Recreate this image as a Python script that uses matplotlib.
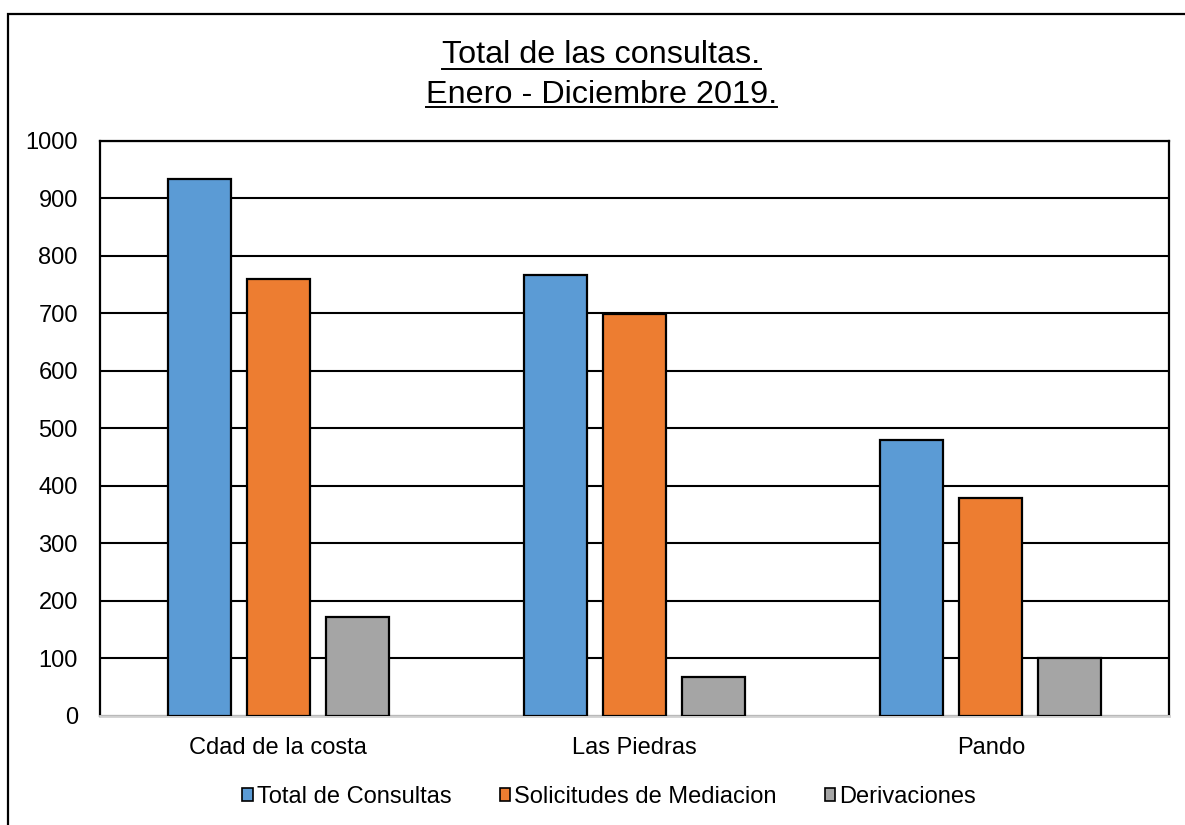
import numpy as np
import matplotlib
matplotlib.use("Agg")
import matplotlib.pyplot as plt
from matplotlib.patches import Rectangle
from matplotlib.lines import Line2D

plt.rcParams['font.family'] = ['Liberation Sans', 'DejaVu Sans']

# Data
categories = ['Cdad de la costa', 'Las Piedras', 'Pando']
series_names = ['Total de Consultas', 'Solicitudes de Mediacion', 'Derivaciones']
total_consultas = [933, 767, 480]
solicitudes = [759, 698, 379]
derivaciones = [172, 68, 100]
colors = ['#5B9BD5', '#ED7D31', '#A5A5A5']
yticks = [0, 100, 200, 300, 400, 500, 600, 700, 800, 900, 1000]

fig = plt.figure(figsize=(11.85, 8.25), dpi=100)
ax = fig.add_axes([100/1185, 1 - 716/825, 1069/1185, (716 - 140.7)/825])

x = np.arange(len(categories))
width = 0.177
step = 0.222
values = [total_consultas, solicitudes, derivaciones]
for i, (vals, name, c) in enumerate(zip(values, series_names, colors)):
    ax.bar(x + (i - 1) * step, vals, width, color=c, edgecolor='black',
           linewidth=1.6, label=name, zorder=3)

ax.set_xlim(-0.5, 2.5)
ax.set_ylim(0, 1000)
ax.set_yticks(yticks)
ax.set_xticks(x)
ax.set_xticklabels(categories, fontsize=17)
ax.tick_params(axis='y', labelsize=17, length=0, pad=16)
ax.tick_params(axis='x', length=0, pad=15)
ax.yaxis.grid(True, color='black', linewidth=1.5, zorder=0)
ax.set_axisbelow(True)
for s in ['left', 'top', 'right']:
    ax.spines[s].set_color('black')
    ax.spines[s].set_linewidth(1.6)
ax.spines['bottom'].set_color('#D0D0D0')
ax.spines['bottom'].set_linewidth(2)

# legend with small square markers
handles = [Rectangle((0, 0), 1, 1, facecolor=c, edgecolor='black', linewidth=1.2)
           for c in colors]
fig.legend(handles, series_names, loc='center', bbox_to_anchor=(609/1185, 1 - 797/825),
           ncol=3, frameon=False, fontsize=17, handlelength=0.45, handleheight=0.45,
           handletextpad=0.15, columnspacing=2.05)

# title, two underlined lines
t1 = fig.text(601.5/1185, 1 - 63/825, 'Total de las consultas.', ha='center',
              va='baseline', fontsize=23.3)
t2 = fig.text(601.5/1185, 1 - 102.7/825, 'Enero - Diciembre 2019.', ha='center',
              va='baseline', fontsize=23.3)
fig.canvas.draw()
r = fig.canvas.get_renderer()
for t, uy in [(t1, 69), (t2, 107)]:
    bb = t.get_window_extent(r)
    yy = 1 - uy / 825
    fig.add_artist(Line2D([bb.x0 / 1185, bb.x1 / 1185], [yy, yy],
                          transform=fig.transFigure, color='black', linewidth=1.4))

# outer chart border
fig.add_artist(Rectangle((8/1185, -0.1), 1.2, 1 - 14/825 + 0.1, transform=fig.transFigure,
                         fill=False, edgecolor='black', linewidth=1.6, clip_on=False))

fig.savefig('out.png', dpi=100)
